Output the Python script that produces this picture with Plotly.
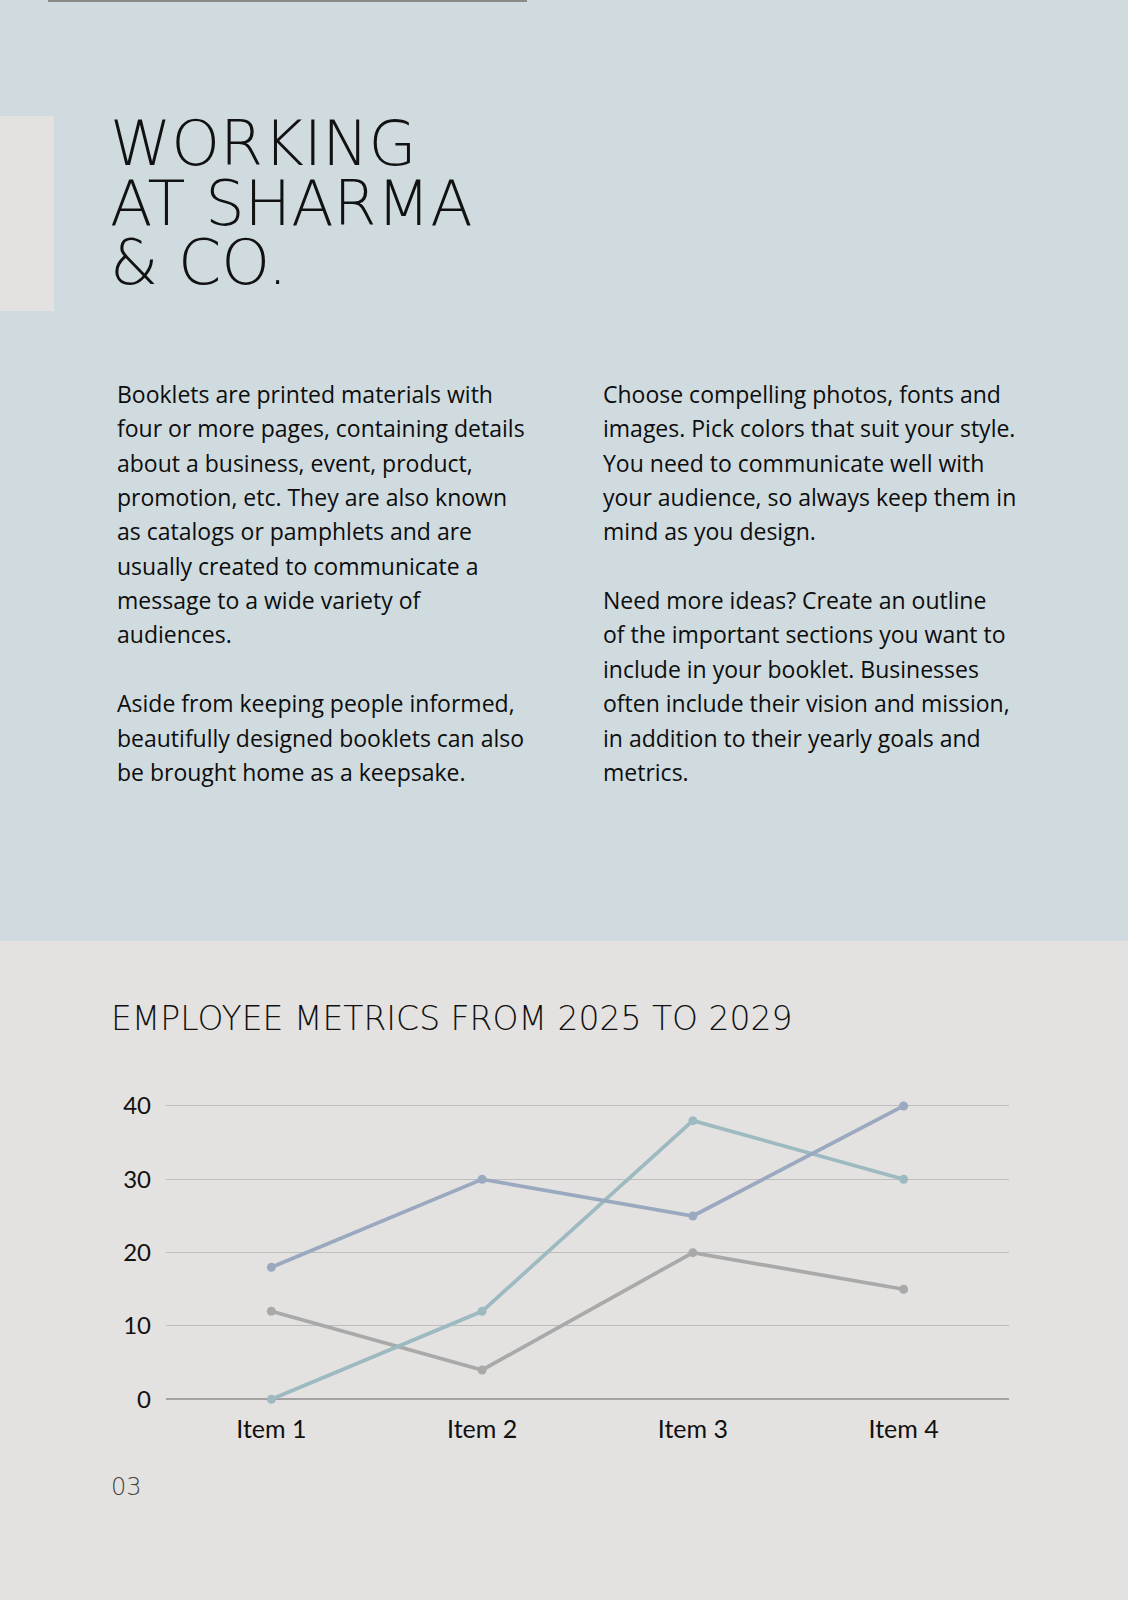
import plotly.graph_objects as go

W, H = 1128, 1600

# chart data
items = ["Item 1", "Item 2", "Item 3", "Item 4"]
series_a = [18, 30, 25, 40]
series_b = [0, 12, 38, 30]
series_c = [12, 4, 20, 15]
y_ticks = [0, 10, 20, 30, 40]

# page text
title_lines = ["WORKING", "AT SHARMA", "& CO."]
left_lines = [
    "Booklets are printed materials with",
    "four or more pages, containing details",
    "about a business, event, product,",
    "promotion, etc. They are also known",
    "as catalogs or pamphlets and are",
    "usually created to communicate a",
    "message to a wide variety of",
    "audiences.",
    "",
    "Aside from keeping people informed,",
    "beautifully designed booklets can also",
    "be brought home as a keepsake.",
]
right_lines = [
    "Choose compelling photos, fonts and",
    "images. Pick colors that suit your style.",
    "You need to communicate well with",
    "your audience, so always keep them in",
    "mind as you design.",
    "",
    "Need more ideas? Create an outline",
    "of the important sections you want to",
    "include in your booklet. Businesses",
    "often include their vision and mission,",
    "in addition to their yearly goals and",
    "metrics.",
]
chart_title = "EMPLOYEE METRICS FROM 2025 TO 2029"
page_no = "03"


def px(x):
    return x / W


def py(y):
    return 1 - y / H


fig = go.Figure()

# order: gray, blue-gray, teal
fig.add_trace(go.Scatter(x=items, y=series_c, mode="lines+markers",
                         line=dict(color="#a9a9a9", width=3.7),
                         marker=dict(size=9, color="#a9a9a9"), cliponaxis=False))
fig.add_trace(go.Scatter(x=items, y=series_b, mode="lines+markers",
                         line=dict(color="#9dbac1", width=3.7),
                         marker=dict(size=9, color="#9dbac1"), cliponaxis=False))
fig.add_trace(go.Scatter(x=items, y=series_a, mode="lines+markers",
                         line=dict(color="#9aa9bf", width=3.7),
                         marker=dict(size=9, color="#9aa9bf"), cliponaxis=False))

shapes = [
    dict(type="rect", xref="paper", yref="paper", x0=0, x1=1, y0=py(941), y1=1,
         fillcolor="#cfdbdf", line_width=0, layer="below"),
    dict(type="rect", xref="paper", yref="paper", x0=0, x1=px(54), y0=py(311), y1=py(116),
         fillcolor="#e3e2e0", line_width=0, layer="below"),
    dict(type="rect", xref="paper", yref="paper", x0=px(48), x1=px(527), y0=py(2), y1=1,
         fillcolor="#8a8a86", line_width=0, layer="below"),
]

ann = []
# one block; line pitch comes from the base size, glyphs are drawn larger
big = "<br>".join("<span style='font-size:62px'>%s</span>" % t for t in title_lines)
ann.append(dict(text=big, x=px(108), y=py(203), xref="paper", yref="paper",
                xanchor="left", yanchor="middle", align="left", showarrow=False,
                font=dict(family="DejaVu Sans", size=45.8, color="#111111", weight=200)))

for col_x, lines in ((115, left_lines), (601, right_lines)):
    for i, t in enumerate(lines):
        if not t:
            continue
        ann.append(dict(text=t, x=px(col_x), y=py(394 + 34.35 * i), xref="paper", yref="paper",
                        xanchor="left", yanchor="middle", showarrow=False,
                        font=dict(family="Open Sans", size=23, color="#0d0d0d")))

ann.append(dict(text=chart_title, x=px(109), y=py(1018), xref="paper", yref="paper",
                xanchor="left", yanchor="middle", showarrow=False,
                font=dict(family="DejaVu Sans", size=33, color="#111111", weight=200)))
ann.append(dict(text=page_no, x=px(109), y=py(1487), xref="paper", yref="paper",
                xanchor="left", yanchor="middle", showarrow=False,
                font=dict(family="DejaVu Sans", size=24, color="#444444", weight=200)))

fig.update_layout(
    width=W, height=H,
    margin=dict(l=0, r=0, t=0, b=0, autoexpand=False),
    paper_bgcolor="#e3e2e0",
    plot_bgcolor="rgba(0,0,0,0)",
    showlegend=False,
    shapes=shapes,
    annotations=ann,
    xaxis=dict(domain=[px(166), px(1009)], range=[-0.5, 3.5], showgrid=False,
               showline=False, zeroline=False, ticks="", automargin=False,
               tickfont=dict(family="Lato", size=25, color="#111111"),
               ticklabelstandoff=13),
    yaxis=dict(domain=[py(1399.3), py(1104.5)], range=[0, 40.2], tickvals=y_ticks,
               showgrid=True, gridcolor="#bdbdbd", gridwidth=1,
               zeroline=True, zerolinecolor="#a3a3a3", zerolinewidth=1.5,
               showline=False, ticks="", automargin=False,
               tickfont=dict(family="Lato", size=24, color="#111111"),
               ticklabelstandoff=14),
)

fig.write_html("out.html", config={"displayModeBar": False},
               post_script="document.body.style.margin='0';")
